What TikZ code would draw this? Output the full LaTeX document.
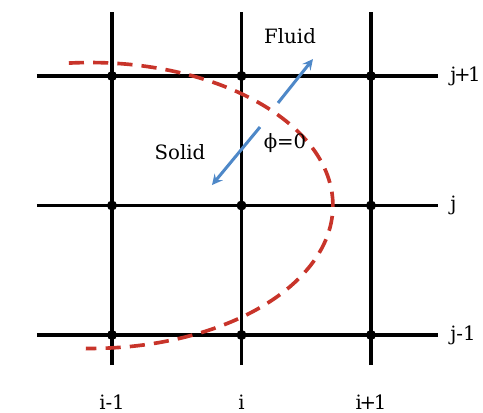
\documentclass[tikz,border=0pt]{standalone}
\usepackage{fontspec}
\setmainfont{DejaVu Serif}
\definecolor{curvered}{RGB}{200,52,42}
\definecolor{arrowblue}{RGB}{78,136,200}
\begin{document}
\begin{tikzpicture}[x=3cm,y=3cm,font=\fontsize{13}{15}\selectfont,line join=round,>=stealth]
				\useasboundingbox (-0.865,-0.595) rectangle (2.865,2.587);
				
				\foreach \i in {0,1,2} {
					\draw[line width=2.3pt] (\i,-0.232) -- (\i,2.494);
					\draw[line width=2.3pt] (-0.58,\i) -- (2.517,\i);
				}
				
				\foreach \i in {0,1,2}
					\foreach \j in {0,1,2}
						\fill (\i,\j) circle (3.3pt);
				
				\draw[curvered, line width=2.4pt, dash pattern=on 10pt off 6pt] (-0.17,1) ++(95:1.876 and 1.104) arc[start angle=95, end angle=-91, x radius=1.876, y radius=1.104];
				
				\coordinate (fluidbase) at (1.282,1.792);
				\coordinate (fluidtip) at (1.552,2.131);
				\coordinate (solidbase) at (1.143,1.606);
				\coordinate (solidtip) at (0.772,1.158);
				
				\draw[->, arrowblue, line width=2pt] (fluidbase) -- (fluidtip);
				\draw[->, arrowblue, line width=2pt] (solidbase) -- (solidtip);
				
				\node (fluid) at (1.375,2.31) {Fluid};
				\node (solid) at (0.525,1.413) {Solid};
				\node (phi) at (1.336,1.483) {ϕ=0};
				
				\foreach \i/\t in {0/i-1,1/i,2/i\kern-0.12em+\kern-0.12em1}
					\node (ilabel\i) at (\i,-0.517) {\t};
				\foreach \j/\t in {0/j-1,1/j,2/j\kern-0.12em+\kern-0.12em1}
					\node[anchor=west, inner sep=0pt] (jlabel\j) at (2.61,\j) {\t};
			\end{tikzpicture}
\end{document}
